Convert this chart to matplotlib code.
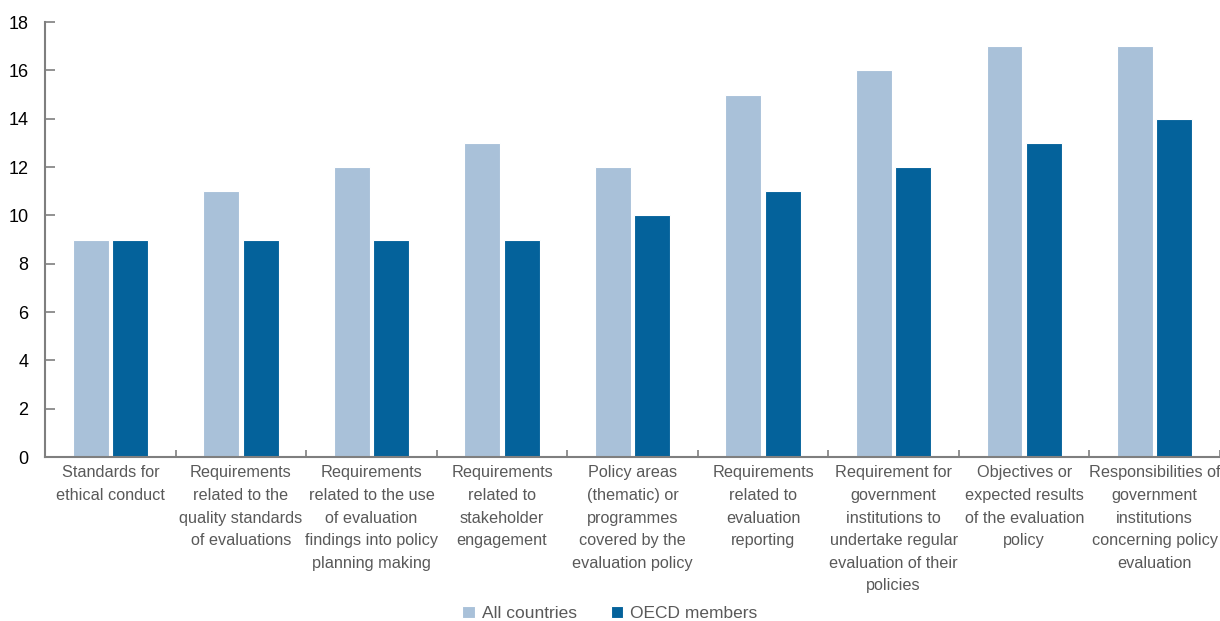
import matplotlib.pyplot as plt
import numpy as np

plt.rcParams['font.family'] = ['Liberation Sans', 'DejaVu Sans']

categories = [
    "Standards for\nethical conduct",
    "Requirements\nrelated to the\nquality standards\nof evaluations",
    "Requirements\nrelated to the use\nof evaluation\nfindings into policy\nplanning making",
    "Requirements\nrelated to\nstakeholder\nengagement",
    "Policy areas\n(thematic) or\nprogrammes\ncovered by the\nevaluation policy",
    "Requirements\nrelated to\nevaluation\nreporting",
    "Requirement for\ngovernment\ninstitutions to\nundertake regular\nevaluation of their\npolicies",
    "Objectives or\nexpected results\nof the evaluation\npolicy",
    "Responsibilities of\ngovernment\ninstitutions\nconcerning policy\nevaluation",
]
all_countries = [9, 11, 12, 13, 12, 15, 16, 17, 17]
oecd_members = [9, 9, 9, 9, 10, 11, 12, 13, 14]
yticks = [0, 2, 4, 6, 8, 10, 12, 14, 16, 18]

LIGHT = '#A9C1D9'
DARK = '#04629B'
AXIS_GREY = '#7F7F7F'
TEXT_GREY = '#595959'

fig = plt.figure(figsize=(12.2, 6.21), dpi=100)
ax = fig.add_axes([0.037, 0.264, 0.963, 0.7005])

x = np.arange(len(categories))
w = 0.275
ax.bar(x - 0.151, all_countries, w, color=LIGHT, edgecolor='white', linewidth=0.8,
       label='All countries')
ax.bar(x + 0.151, oecd_members, w, color=DARK, edgecolor='white', linewidth=0.8,
       label='OECD members')

ax.set_xlim(-0.5, len(categories) - 0.5)
ax.set_ylim(0, 18)
ax.set_yticks(yticks)
ax.tick_params(axis='y', direction='in', length=7, color=AXIS_GREY, width=1.2,
               labelsize=13, labelcolor='black', pad=12)

# category boundaries as tick marks, labels at centres
ax.set_xticks(np.arange(len(categories)) + 0.5)
ax.set_xticklabels([])
ax.tick_params(axis='x', which='major', direction='in', length=5, color=AXIS_GREY, width=1.2)
ax.set_xticks(x, minor=True)
ax.set_xticklabels(categories, minor=True, fontsize=11.7, color=TEXT_GREY,
                   linespacing=1.63)
ax.tick_params(axis='x', which='minor', length=0, pad=6)

for side in ['top', 'right']:
    ax.spines[side].set_visible(False)
for side in ['left', 'bottom']:
    ax.spines[side].set_color(AXIS_GREY)
    ax.spines[side].set_linewidth(1.5)

fig.legend(loc='lower center', bbox_to_anchor=(0.5, -0.025), ncol=2, frameon=False,
           fontsize=12.5, labelcolor=TEXT_GREY, handlelength=0.7, handleheight=0.7,
           handletextpad=0.4, columnspacing=2.0)

fig.savefig('out.png', dpi=100)
